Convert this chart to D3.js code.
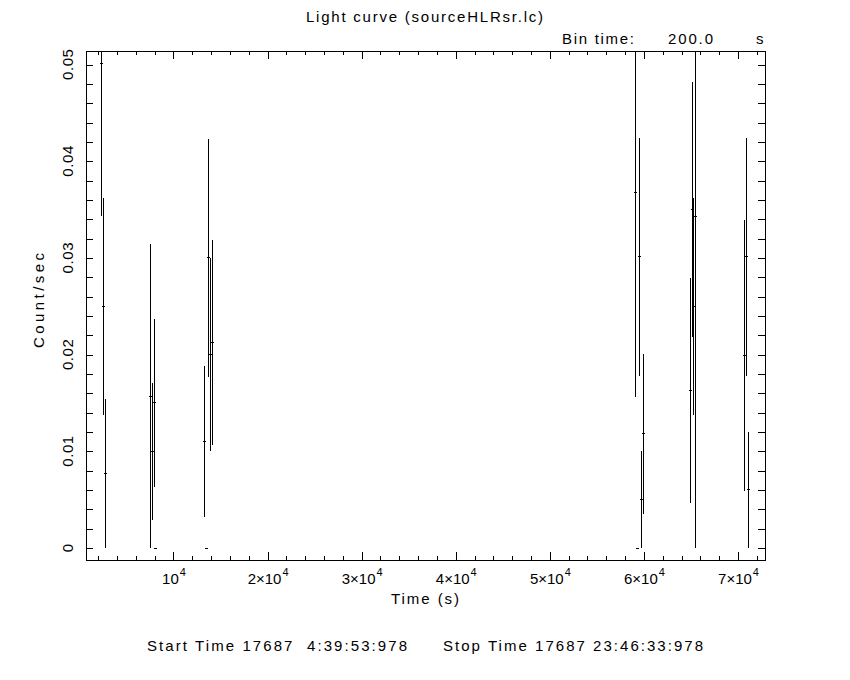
<!DOCTYPE html>
<html>
<head>
<meta charset="utf-8">
<script src="https://cdn.jsdelivr.net/npm/d3@7"></script>
<style>
  body { margin: 0; background: #fff; }
  svg { display: block; }
  text { font-family: "Liberation Sans", "DejaVu Sans", sans-serif; fill: #000; }
</style>
</head>
<body>
<svg id="lc" width="850" height="680"></svg>
<script>
// light curve bins (time in s, rate in count/sec, 1-sigma error)
var binTime = 200.0;
var times = [2330, 2530, 2730, 7530, 7730, 7930, 8130, 13330, 13530, 13730, 13930, 14130,
             59130, 59330, 59530, 59730, 59930, 64930, 65140, 65250, 65480, 70680, 70890, 71100];
var rates = [0.0501, 0.0250, 0.0077, 0.0157, 0.0100, 0.0150, 0, 0.0110, 0, 0.0300, 0.0200, 0.0213,
             0.0368, 0, 0.0301, 0.0050, 0.0118, 0.0163, 0.0350, 0.0250, 0.0343, 0.0199, 0.0301, 0.0060];
var errors = [0.0158, 0.0112, 0.0077, 0.0157, 0.0071, 0.0087, 0, 0.0078, 0, 0.0123, 0.0100, 0.0106,
              0.0212, 0, 0.0123, 0.0050, 0.0083, 0.0116, 0.0132, 0.0112, 0.0343, 0.0140, 0.0123, 0.0060];

var xMajor = [10000, 20000, 30000, 40000, 50000, 60000, 70000];
var xMajorLabels = [["", "4"], ["2\u00d7", "4"], ["3\u00d7", "4"], ["4\u00d7", "4"], ["5\u00d7", "4"], ["6\u00d7", "4"], ["7\u00d7", "4"]];
var yMajor = [0, 0.01, 0.02, 0.03, 0.04, 0.05];
var yMajorLabels = ["0", "0.01", "0.02", "0.03", "0.04", "0.05"];

var title = "Light curve (sourceHLRsr.lc)";
var binLabel = "Bin time:";
var binValue = "200.0";
var binUnit = "s";
var xTitle = "Time (s)";
var yTitle = "Count/sec";
var startText = "Start Time 17687  4:39:53:978";
var stopText = "Stop Time 17687 23:46:33:978";

var margin = { top: 51, right: 85, bottom: 120, left: 86 };
var width = 850 - margin.left - margin.right;
var height = 680 - margin.top - margin.bottom;

var data = times.map(function (t, i) { return { time: t, rate: rates[i], err: errors[i] }; });

var svg, plot, x, y;

function initSvg() {
    svg = d3.select('#lc');
    plot = svg.append('g')
        .attr('transform', 'translate(' + margin.left + ',' + margin.top + ')');
    plot.append('clipPath')
        .attr('id', 'clip')
        .append('rect')
        .attr('width', width)
        .attr('height', height);
}

function initAxis() {
    x = d3.scaleLinear().domain([700, 72870]).range([0, width]);
    y = d3.scaleLinear().domain([-0.00124, 0.0514]).range([height, 0]);
}

function styleAxis(g) {
    g.select('.domain').remove();
    g.selectAll('line').attr('stroke', '#000').attr('shape-rendering', 'crispEdges');
}

function label(sel, txt, len) {
    // stretch the text a bit, the original plot font is wide
    return sel.style('font-size', '15px')
        .attr('textLength', len)
        .attr('lengthAdjust', 'spacing')
        .text(txt);
}

function drawAxis() {
    var xMinor = d3.range(2000, 72001, 2000);
    var yMinor = d3.range(0, 0.0501, 0.002);

    // bottom & top: minor then major ticks, pointing inward
    plot.append('g').attr('transform', 'translate(0,' + height + ')')
        .call(d3.axisBottom(x).tickValues(xMinor).tickSize(-4).tickFormat(''))
        .call(styleAxis);
    var bottom = plot.append('g').attr('transform', 'translate(0,' + height + ')')
        .call(d3.axisBottom(x).tickValues(xMajor).tickSize(-8).tickFormat(''))
        .call(styleAxis);
    plot.append('g')
        .call(d3.axisTop(x).tickValues(xMinor).tickSize(-4).tickFormat(''))
        .call(styleAxis);
    plot.append('g')
        .call(d3.axisTop(x).tickValues(xMajor).tickSize(-8).tickFormat(''))
        .call(styleAxis);

    bottom.selectAll('.tick').each(function (d, i) {
        var t = d3.select(this).append('text')
            .attr('y', 24)
            .attr('text-anchor', 'middle')
            .style('font-size', '15px');
        t.append('tspan').text(xMajorLabels[i][0] + '10');
        t.append('tspan').attr('dx', 1).attr('dy', -8).style('font-size', '11px').text(xMajorLabels[i][1]);
    });

    // left & right
    plot.append('g')
        .call(d3.axisLeft(y).tickValues(yMinor).tickSize(-7).tickFormat(''))
        .call(styleAxis);
    plot.append('g').attr('transform', 'translate(' + width + ',0)')
        .call(d3.axisRight(y).tickValues(yMinor).tickSize(-7).tickFormat(''))
        .call(styleAxis);

    plot.selectAll('.ylab')
        .data(yMajor)
        .enter().append('text')
        .attr('class', 'ylab')
        .attr('transform', function (d) { return 'translate(-13,' + y(d) + ') rotate(-90)'; })
        .attr('text-anchor', 'middle')
        .style('font-size', '15px')
        .each(function (d, i) {
            var s = d3.select(this).text(yMajorLabels[i]);
            if (yMajorLabels[i].length > 1) s.attr('textLength', 31).attr('lengthAdjust', 'spacing');
        });

    plot.append('rect')
        .attr('width', width)
        .attr('height', height)
        .attr('fill', 'none')
        .attr('stroke', '#000')
        .attr('shape-rendering', 'crispEdges');
}

function drawErrorBars() {
    var g = plot.append('g').attr('clip-path', 'url(#clip)')
        .attr('stroke', '#000').attr('stroke-width', 1)
        .attr('shape-rendering', 'crispEdges');

    g.selectAll('.ebar')
        .data(data.filter(function (d) { return d.err > 0; }))
        .enter().append('line')
        .attr('class', 'ebar')
        .attr('x1', function (d) { return x(d.time); })
        .attr('x2', function (d) { return x(d.time); })
        .attr('y1', function (d) { return y(d.rate + d.err); })
        .attr('y2', function (d) { return y(d.rate - d.err); });

    g.selectAll('.bin')
        .data(data)
        .enter().append('line')
        .attr('class', 'bin')
        .attr('x1', function (d) { return x(d.time - binTime / 2) - 0.6; })
        .attr('x2', function (d) { return x(d.time + binTime / 2) + 0.6; })
        .attr('y1', function (d) { return y(d.rate); })
        .attr('y2', function (d) { return y(d.rate); });
}

function drawLabels() {
    svg.append('text').attr('x', 306).attr('y', 22).call(label, title, 237);
    svg.append('text').attr('x', 562).attr('y', 44).call(label, binLabel, 72);
    svg.append('text').attr('x', 668).attr('y', 44).call(label, binValue, 45);
    svg.append('text').attr('x', 756).attr('y', 44).style('font-size', '15px').text(binUnit);
    svg.append('text').attr('x', 391).attr('y', 604).call(label, xTitle, 68);
    svg.append('text').attr('transform', 'translate(44,348) rotate(-90)').call(label, yTitle, 95);
    svg.append('text').attr('x', 147).attr('y', 651).style('white-space', 'pre').call(label, startText, 260);
    svg.append('text').attr('x', 443).attr('y', 651).call(label, stopText, 260);
}

initSvg();
initAxis();
drawAxis();
drawErrorBars();
drawLabels();
</script>
</body>
</html>
